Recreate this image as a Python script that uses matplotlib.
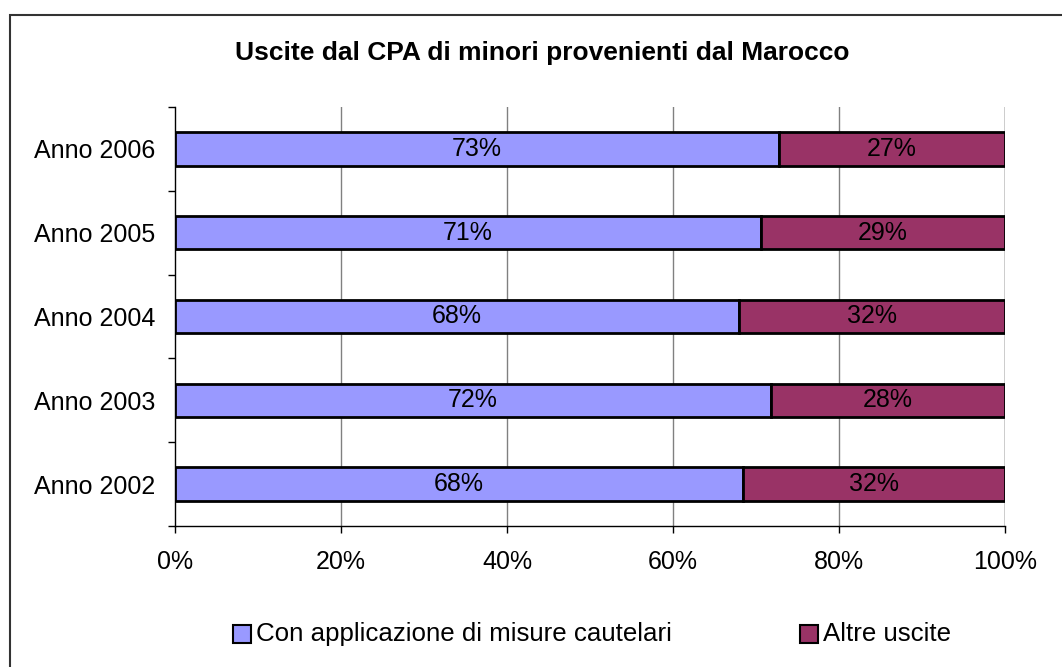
import matplotlib
matplotlib.use("Agg")
import matplotlib.pyplot as plt
from matplotlib.patches import Rectangle
import numpy as np

plt.rcParams['font.family'] = ['Liberation Sans', 'DejaVu Sans']

categories = ["Anno 2002", "Anno 2003", "Anno 2004", "Anno 2005", "Anno 2006"]
con_misure = [68.4, 71.8, 68.0, 70.6, 72.8]
altre = [31.6, 28.2, 32.0, 29.4, 27.2]
series_names = ["Con applicazione di misure cautelari", "Altre uscite"]
colors = ["#9999FF", "#993366"]
title = "Uscite dal CPA di minori provenienti dal Marocco"

W, H = 1062, 667
fig = plt.figure(figsize=(W / 100, H / 100), dpi=100)
fig.patch.set_facecolor("white")

# outer chart border (cropped at right/bottom)
fig.patches.append(Rectangle((10 / W, -0.1), 1.2, 1 - 15 / H + 0.1,
                             transform=fig.transFigure, fill=False,
                             edgecolor="#333333", linewidth=1.5, zorder=0))

ax = fig.add_axes([175 / W, 1 - 526 / H, (1005 - 175) / W, (526 - 107) / H])
y = np.arange(len(categories))
bh = 0.40
ax.barh(y, con_misure, height=bh, color=colors[0], edgecolor="black", linewidth=2, zorder=3)
ax.barh(y, altre, left=con_misure, height=bh, color=colors[1], edgecolor="black", linewidth=2, zorder=3)

FS = 18
for i in range(len(categories)):
    tot = con_misure[i] + altre[i]
    ax.text(con_misure[i] / 2, y[i], f"{round(con_misure[i] / tot * 100):.0f}%",
            ha="center", va="center", fontsize=FS, zorder=4)
    ax.text(con_misure[i] + altre[i] / 2, y[i], f"{round(altre[i] / tot * 100):.0f}%",
            ha="center", va="center", fontsize=FS, zorder=4)

ax.set_xlim(0, 100)
ax.set_ylim(-0.5, len(categories) - 0.5)
ax.set_xticks([0, 20, 40, 60, 80, 100])
ax.set_xticklabels(["0%", "20%", "40%", "60%", "80%", "100%"], fontsize=FS)
ax.set_yticks(y)
ax.set_yticklabels(categories, fontsize=FS)
ax.set_yticks(np.arange(-0.5, len(categories), 1.0), minor=True)
ax.tick_params(axis="y", which="major", length=0, pad=14)
ax.tick_params(axis="y", which="minor", length=5, width=1, direction="out")
ax.tick_params(axis="x", which="major", length=5, width=1, direction="out", pad=12)

for v in [20, 40, 60, 80]:
    ax.axvline(v, color="#808080", linewidth=1, zorder=1)
ax.axvline(100, color="black", linewidth=1, zorder=1)

ax.spines["top"].set_visible(False)
ax.spines["right"].set_visible(False)
ax.spines["left"].set_linewidth(1)
ax.spines["bottom"].set_linewidth(1)

fig.text(542 / W, 1 - 53 / H, title,
         ha="center", va="center", fontsize=19, fontweight="bold")

# legend (manual placement)
leg_x = [233, 800]
for lx, name, c in zip(leg_x, series_names, colors):
    fig.patches.append(Rectangle((lx / W, 1 - 643 / H), 18 / W, 18 / H,
                                 transform=fig.transFigure, facecolor=c,
                                 edgecolor="black", linewidth=1.5))
    fig.text((lx + 23) / W, 1 - 634 / H, name, ha="left", va="center", fontsize=18.6)

fig.savefig("out.png", dpi=100)
